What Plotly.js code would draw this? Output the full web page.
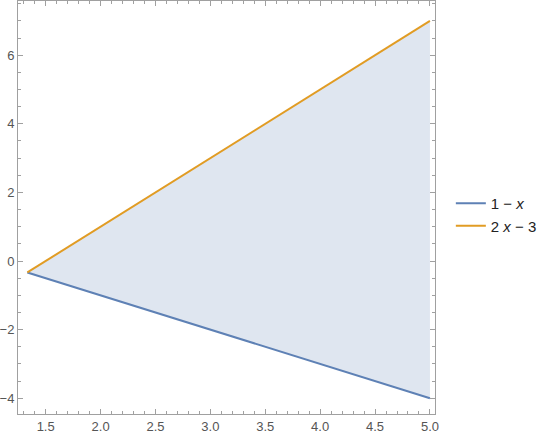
<!DOCTYPE html>
<html>
<head>
<meta charset="utf-8">
<script src="https://cdn.plot.ly/plotly-3.0.1.min.js"></script>
<style>html,body{margin:0;padding:0;background:#fff;}#chart{width:540px;height:439px;}</style>
</head>
<body>
<div id="chart"></div>
<script>
const xValues = [1.3333, 5.0];
const lineA = [-0.3333, -4.0];   // 1 - x
const lineB = [-0.3333, 7.0];    // 2x - 3
const seriesNames = ['1 \u2212 <i>x</i>', '2 <i>x</i> \u2212 3'];
const xTicks = [1.5, 2.0, 2.5, 3.0, 3.5, 4.0, 4.5, 5.0];
const yTicks = [-4, -2, 0, 2, 4, 6];

const traces = [
  {x: xValues, y: lineA, mode: 'lines', showlegend: false, hoverinfo: 'skip',
   line: {color: 'rgba(0,0,0,0)', width: 0}},
  {x: xValues, y: lineB, mode: 'lines', fill: 'tonexty', showlegend: false, hoverinfo: 'skip',
   fillcolor: 'rgba(94,129,181,0.2)', line: {color: 'rgba(0,0,0,0)', width: 0}},
  {x: xValues, y: lineA, name: seriesNames[0], mode: 'lines',
   line: {color: '#5E81B5', width: 2}},
  {x: xValues, y: lineB, name: seriesNames[1], mode: 'lines',
   line: {color: '#E19C24', width: 2}}
];

const axisCommon = {
  showgrid: false, zeroline: false, showline: true, linecolor: '#a0a0a0', linewidth: 1,
  mirror: 'ticks', ticks: 'inside', ticklen: 5, tickcolor: '#a0a0a0', tickwidth: 1,
  tickfont: {family: 'Liberation Sans, Arial, sans-serif', size: 13, color: '#555'}
};

const layout = {
  width: 540, height: 439,
  margin: {l: 18, r: 105, t: 1, b: 25, autoexpand: false},
  paper_bgcolor: '#fff', plot_bgcolor: '#fff',
  xaxis: Object.assign({}, axisCommon, {
    range: [1.248, 5.046], tickvals: xTicks, ticktext: xTicks.map(v => v.toFixed(1)),
    minor: {dtick: 0.1, tick0: 0, ticks: 'inside', ticklen: 3, tickcolor: '#a0a0a0'}
  }),
  yaxis: Object.assign({}, axisCommon, {
    range: [-4.46, 7.58], tickvals: yTicks, ticktext: yTicks.map(v => v < 0 ? '\u2212' + Math.abs(v) : String(v)),
    minor: {dtick: 0.5, tick0: 0, ticks: 'inside', ticklen: 3, tickcolor: '#a0a0a0'}
  }),
  showlegend: true,
  legend: {x: 1.038, y: 0.483, xanchor: 'left', yanchor: 'middle', bgcolor: 'rgba(0,0,0,0)',
    traceorder: 'normal',
    font: {family: 'Liberation Sans, Arial, sans-serif', size: 15, color: '#222'},
    itemwidth: 30}
};

Plotly.newPlot('chart', traces, layout, {displayModeBar: false, staticPlot: true});
</script>
</body>
</html>
